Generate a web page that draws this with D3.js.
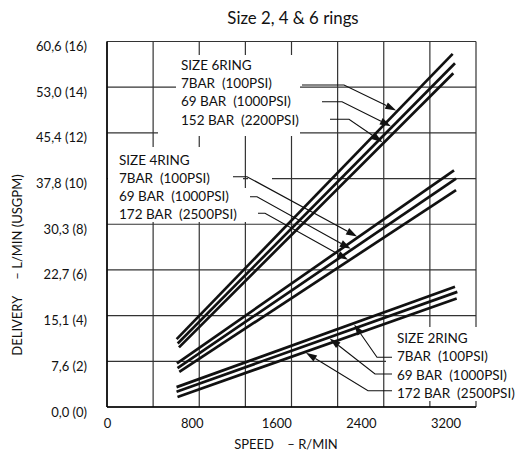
<!DOCTYPE html>
<html><head><meta charset="utf-8">
<script src="https://cdn.jsdelivr.net/npm/d3@7"></script>
<style>
body{margin:0;background:#fff}
text{font-family:Lato,"Open Sans",sans-serif;fill:#111}
</style>
</head><body>
<svg id="chart" width="517" height="458"></svg>
<script>
// ---- data ----
const speedTicks = [0, 800, 1600, 2400, 3200];
const flowTicks = [0, 2, 4, 6, 8, 10, 12, 14, 16];
const flowTickLabels = ["0,0 (0)", "7,6 (2)", "15,1 (4)", "22,7 (6)", "30,3 (8)", "37,8 (10)", "45,4 (12)", "53,0 (14)", "60,6 (16)"];
const gridColumns = [0, 1, 2, 3, 4, 5, 6, 7, 8];
// [speed r/min, delivery USGPM]
const ring6_7bar   = [[653, 2.97], [3263, 15.46]];
const ring6_69bar  = [[663, 2.78], [3285, 15.05]];
const ring6_152bar = [[675, 2.61], [3269, 14.61]];
const ring4_7bar   = [[656, 1.91], [3276, 10.36]];
const ring4_69bar  = [[661, 1.70], [3295, 10.00]];
const ring4_172bar = [[678, 1.54], [3295, 9.49]];
const ring2_7bar   = [[652, 0.87], [3285, 5.26]];
const ring2_69bar  = [[652, 0.67], [3307, 5.04]];
const ring2_172bar = [[661, 0.44], [3301, 4.75]];
const ring6Labels = ["SIZE 6RING", "7BAR  (100PSI)", "69 BAR  (1000PSI)", "152 BAR  (2200PSI)"];
const ring4Labels = ["SIZE 4RING", "7BAR  (100PSI)", "69 BAR  (1000PSI)", "172 BAR  (2500PSI)"];
const ring2Labels = ["SIZE 2RING", "7BAR  (100PSI)", "69 BAR  (1000PSI)", "172 BAR  (2500PSI)"];
const ring6ArrowSpeed = [2740, 2690, 2610];
const ring4ArrowSpeed = [2370, 2310, 2285];
const ring2ArrowSpeed = [2325, 2090, 1865];

// ---- layout ----
const svg = d3.select("#chart");
const plot = {left: 107, right: 476, top: 41.5, bottom: 407};
const x = d3.scaleLinear().domain([0, 3200]).range([107.6, 446]);
const gx = d3.scaleLinear().domain([0, 8]).range([plot.left, plot.right]);
const y = d3.scaleLinear().domain([0, 16]).range([plot.bottom, plot.top]);

// grid
const grid = svg.append("g").attr("stroke", "#333").attr("stroke-width", 1.2);
grid.selectAll("line.v").data(gridColumns).join("line")
  .attr("x1", d => gx(d)).attr("x2", d => gx(d))
  .attr("y1", plot.top).attr("y2", plot.bottom);
grid.selectAll("line.h").data(flowTicks).join("line")
  .attr("x1", plot.left).attr("x2", plot.right)
  .attr("y1", d => y(d)).attr("y2", d => y(d));

// white label boxes
const boxes = [
  [176, 55, 124, 76], [158, 92, 142, 44],
  [108, 147, 135, 75], [248, 170, 24, 52], [243, 188, 5, 34],
  [386, 327, 131, 74]
];
svg.append("g").selectAll("rect").data(boxes).join("rect")
  .attr("x", d => d[0]).attr("y", d => d[1]).attr("width", d => d[2]).attr("height", d => d[3])
  .attr("fill", "#fff");

// axes lines
svg.append("line").attr("x1", plot.left).attr("x2", plot.left).attr("y1", plot.top).attr("y2", plot.bottom)
  .attr("stroke", "#000").attr("stroke-width", 1.5);
svg.append("line").attr("x1", plot.left).attr("x2", plot.right).attr("y1", plot.bottom).attr("y2", plot.bottom)
  .attr("stroke", "#000").attr("stroke-width", 1.5);

// tick labels
svg.append("g").selectAll("text").data(speedTicks).join("text")
  .attr("x", d => x(d)).attr("y", 428).attr("text-anchor", "middle")
  .attr("font-size", 13).text(d => d);
svg.append("g").selectAll("text").data(flowTicks).join("text")
  .attr("x", 87).attr("y", d => y(d) + 9.5).attr("text-anchor", "end")
  .attr("font-size", 13).text((d, i) => flowTickLabels[i]);

// titles
svg.append("text").attr("x", 293).attr("y", 24).attr("text-anchor", "middle")
  .attr("font-size", 16.8).text("Size 2, 4 & 6 rings");
svg.append("text").attr("x", 286).attr("y", 449).attr("text-anchor", "middle")
  .attr("font-size", 13).style("white-space", "pre").text("SPEED    – R/MIN");
svg.append("text").attr("transform", "translate(22,265) rotate(-90)").attr("text-anchor", "middle")
  .attr("font-size", 13).style("white-space", "pre").text("DELIVERY     – L/MIN (USGPM)");

// series lines
const line = d3.line().x(d => x(d[0])).y(d => y(d[1]));
const allSeries = [ring6_7bar, ring6_69bar, ring6_152bar, ring4_7bar, ring4_69bar, ring4_172bar, ring2_7bar, ring2_69bar, ring2_172bar];
svg.append("g").selectAll("path").data(allSeries).join("path")
  .attr("d", line).attr("fill", "none").attr("stroke", "#111").attr("stroke-width", 2.7);

// annotations
function pointOn(series, s) {
  const [a, b] = series;
  const t = (s - a[0]) / (b[0] - a[0]);
  return [x(s), y(a[1] + t * (b[1] - a[1]))];
}
function annotate(labels, tx, ty, dy, series, speeds, leaders) {
  const g = svg.append("g");
  g.selectAll("text").data(labels).join("text")
    .attr("x", tx).attr("y", (d, i) => ty + i * dy)
    .attr("font-size", 13.5).style("white-space", "pre").text(d => d);
  leaders.forEach((l, i) => {
    const tip = pointOn(series[i], speeds[i]);
    const [ex, ey] = l[1];
    const dx = tip[0] - ex, ddy = tip[1] - ey, len = Math.hypot(dx, ddy);
    const ux = dx / len, uy = ddy / len;
    const t = [tip[0] - ux * 1.3, tip[1] - uy * 1.3];
    const base = [t[0] - ux * 11, t[1] - uy * 11];
    g.append("path").attr("d", d3.line()([l[0], l[1], base]))
      .attr("fill", "none").attr("stroke", "#111").attr("stroke-width", 1.1);
    g.append("path").attr("d", d3.line()([t, [base[0] - uy * 3.6, base[1] + ux * 3.6], [base[0] + uy * 3.6, base[1] - ux * 3.6]]) + "Z")
      .attr("fill", "#111");
  });
}
annotate(ring6Labels, 181, 70, 18.2, [ring6_7bar, ring6_69bar, ring6_152bar], ring6ArrowSpeed,
  [[[302, 85], [344, 85]], [[322, 101.7], [342, 101.7]], [[330, 119.3], [349, 119.3]]]);
annotate(ring4Labels, 119, 165, 18, [ring4_7bar, ring4_69bar, ring4_172bar], ring4ArrowSpeed,
  [[[233, 176.7], [247, 176.7]], [[250, 196.7], [257, 196.7]], [[258, 213.3], [265, 213.3]]]);
annotate(ring2Labels, 397, 343, 18.3, [ring2_7bar, ring2_69bar, ring2_172bar], ring2ArrowSpeed,
  [[[392, 357.3], [377, 357.3]], [[392, 374], [375, 374]], [[392, 390.7], [368, 390.7]]]);
</script>
</body></html>
